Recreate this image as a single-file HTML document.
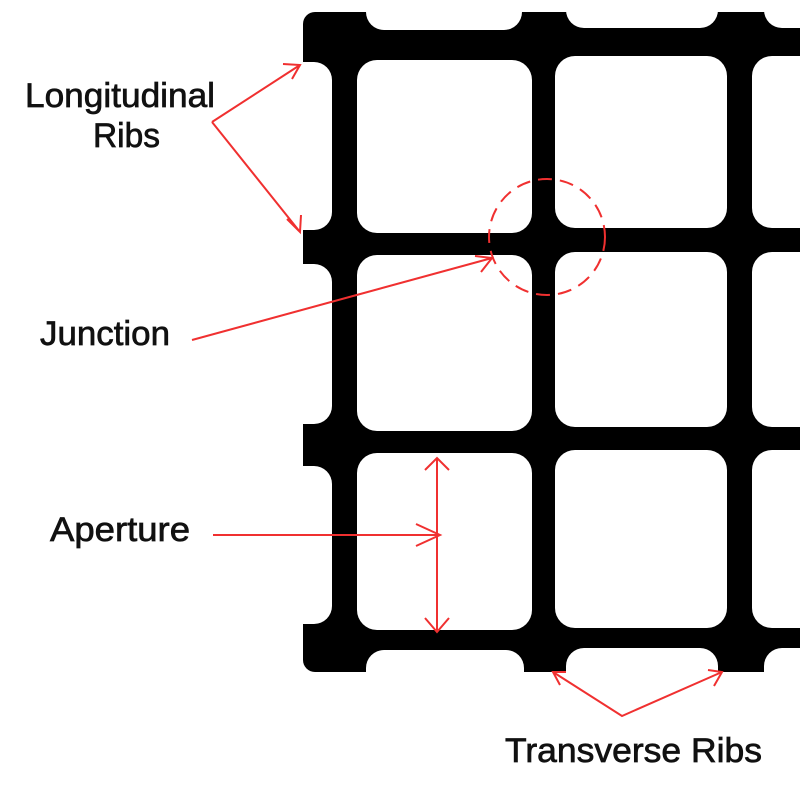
<!DOCTYPE html>
<html><head><style>html,body{margin:0;padding:0;background:#fff}</style></head>
<body>
<svg width="800" height="800" viewBox="0 0 800 800" xmlns="http://www.w3.org/2000/svg">
<rect x="0" y="0" width="800" height="800" fill="#fff"/>
<rect x="303" y="12" width="520" height="660" rx="12" fill="#000"/>
<g fill="#fff">
<rect x="366" y="-30" width="156" height="60" rx="18"/>
<rect x="566" y="-30" width="152" height="58" rx="18"/>
<rect x="764" y="-30" width="80" height="58" rx="18"/>
<rect x="-30" y="62" width="362" height="168" rx="18"/>
<rect x="-30" y="264" width="362" height="160" rx="18"/>
<rect x="-30" y="466" width="362" height="158" rx="18"/>
<rect x="366" y="650" width="158" height="80" rx="18"/>
<rect x="566" y="648" width="152" height="80" rx="18"/>
<rect x="764" y="648" width="80" height="80" rx="18"/>
<rect x="357" y="60" width="175" height="173" rx="20"/>
<rect x="555" y="56" width="172" height="172" rx="20"/>
<rect x="752" y="56" width="80" height="172" rx="20"/>
<rect x="357" y="255" width="175" height="176" rx="20"/>
<rect x="555" y="252" width="172" height="175" rx="20"/>
<rect x="752" y="252" width="80" height="175" rx="20"/>
<rect x="357" y="453" width="175" height="177" rx="20"/>
<rect x="555" y="450" width="172" height="178" rx="20"/>
<rect x="752" y="450" width="80" height="178" rx="20"/>
</g>
<g stroke="#f03030" stroke-width="2" fill="none">
<path d="M212,122 L300,65 M283,64 L300,65 L292,79"/>
<path d="M212,122 L300,232 M287,219 L300,232 L301,215"/>
<path d="M192,340 L492,258 M475,256 L492,258 L481,272"/>
<circle cx="547" cy="237" r="58" stroke-dasharray="14,8"/>
<path d="M213,535 L440,535 M416,524 L440,535 L416,546"/>
<path d="M437,458 L437,632 M425,470 L437,458 L449,470 M425,618 L437,632 L449,618"/>
<path d="M553,672 L622,716 L722,672 M566,672 L553,672 L560,685 M708,670 L722,672 L714,686"/>
</g>
<g font-family="Liberation Sans, Arial, sans-serif" font-size="34" fill="#111" stroke="#111" stroke-width="0.7">
<text x="25" y="107" textLength="190" lengthAdjust="spacingAndGlyphs">Longitudinal</text>
<text x="93" y="147" textLength="67" lengthAdjust="spacingAndGlyphs">Ribs</text>
<text x="40" y="345" textLength="130" lengthAdjust="spacingAndGlyphs">Junction</text>
<text x="50" y="541" textLength="140" lengthAdjust="spacingAndGlyphs">Aperture</text>
<text x="505" y="762" textLength="257" lengthAdjust="spacingAndGlyphs">Transverse Ribs</text>
</g>
</svg>
</body></html>
